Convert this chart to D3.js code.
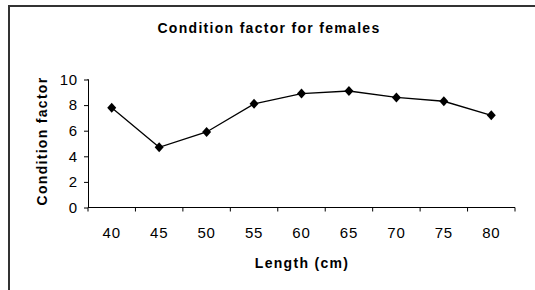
<!DOCTYPE html>
<html>
<head>
<meta charset="utf-8">
<script src="https://cdn.jsdelivr.net/npm/d3@7"></script>
<style>
  body { margin: 0; background: #fff; }
  svg { display: block; font-family: "Liberation Sans", Arial, sans-serif; }
</style>
</head>
<body>
<svg id="chart" width="535" height="290"></svg>
<script>
// Chart data
const lengths = ["40", "45", "50", "55", "60", "65", "70", "75", "80"];
const conditionFactor = [7.8, 4.7, 5.9, 8.1, 8.9, 9.1, 8.6, 8.3, 7.2];
const yTicks = [0, 2, 4, 6, 8, 10];

const svg = d3.select("#chart");

// Outer frame (runs off the right and bottom edges)
svg.append("path")
  .attr("d", "M9,292 V6 H537")
  .style("fill", "none")
  .style("stroke", "#333")
  .style("stroke-width", 2);

const left = 88;
const plotBottom = 207.5;

const x = d3.scaleBand().domain(lengths).range([left, 515]);
const y = d3.scaleLinear().domain([0, 10]).range([plotBottom, 79.5]);

// Title
svg.append("text")
  .attr("x", 269)
  .attr("y", 33)
  .attr("text-anchor", "middle")
  .style("font-size", "14px")
  .style("font-weight", "bold")
  .style("letter-spacing", "1.3px")
  .text("Condition factor for females");

// Y axis
const yAxis = svg.append("g")
  .attr("transform", `translate(${left},0)`)
  .call(d3.axisLeft(y).tickValues(yTicks).tickSize(4).tickPadding(6));
yAxis.select(".domain").attr("d", `M-0.5,${y(10)}H0.5V${plotBottom}`);

// X axis with ticks on category boundaries
const xAxis = svg.append("g")
  .attr("transform", `translate(0,${plotBottom})`);
xAxis.append("line")
  .attr("x1", x.range()[0]).attr("x2", x.range()[1])
  .style("stroke", "#000");
xAxis.selectAll(".bnd")
  .data(lengths.concat(["end"]))
  .join("line")
  .attr("class", "bnd")
  .attr("x1", (d, i) => x.range()[0] + i * x.step())
  .attr("x2", (d, i) => x.range()[0] + i * x.step())
  .attr("y1", 0).attr("y2", 4)
  .style("stroke", "#000");
xAxis.selectAll(".lbl")
  .data(lengths)
  .join("text")
  .attr("class", "lbl")
  .attr("x", d => x(d) + x.bandwidth() / 2)
  .attr("y", 30)
  .attr("text-anchor", "middle")
  .style("font-size", "15px")
  .style("letter-spacing", "0.8px")
  .text(d => d);

svg.selectAll(".tick text")
  .style("font-size", "15px")
  .style("letter-spacing", "0.8px")
  .style("font-family", "'Liberation Sans', Arial, sans-serif")
  .attr("fill", "#000");

// Axis titles
svg.append("text")
  .attr("x", 302)
  .attr("y", 268)
  .attr("text-anchor", "middle")
  .style("font-size", "14px")
  .style("font-weight", "bold")
  .style("letter-spacing", "1.3px")
  .text("Length (cm)");

svg.append("text")
  .attr("transform", "translate(47,141) rotate(-90)")
  .attr("text-anchor", "middle")
  .style("font-size", "14px")
  .style("font-weight", "bold")
  .style("letter-spacing", "1.3px")
  .text("Condition factor");

// Line and diamond markers
const pts = lengths.map((d, i) => [x(d) + x.bandwidth() / 2, y(conditionFactor[i])]);

svg.append("path")
  .attr("d", d3.line()(pts))
  .style("fill", "none")
  .style("stroke", "#000")
  .style("stroke-width", 1.3);

svg.selectAll(".marker")
  .data(pts)
  .join("path")
  .attr("class", "marker")
  .attr("transform", d => `translate(${d[0]},${d[1]})`)
  .attr("d", "M0,-5L4.5,0L0,5L-4.5,0Z")
  .style("fill", "#000");
</script>
</body>
</html>
